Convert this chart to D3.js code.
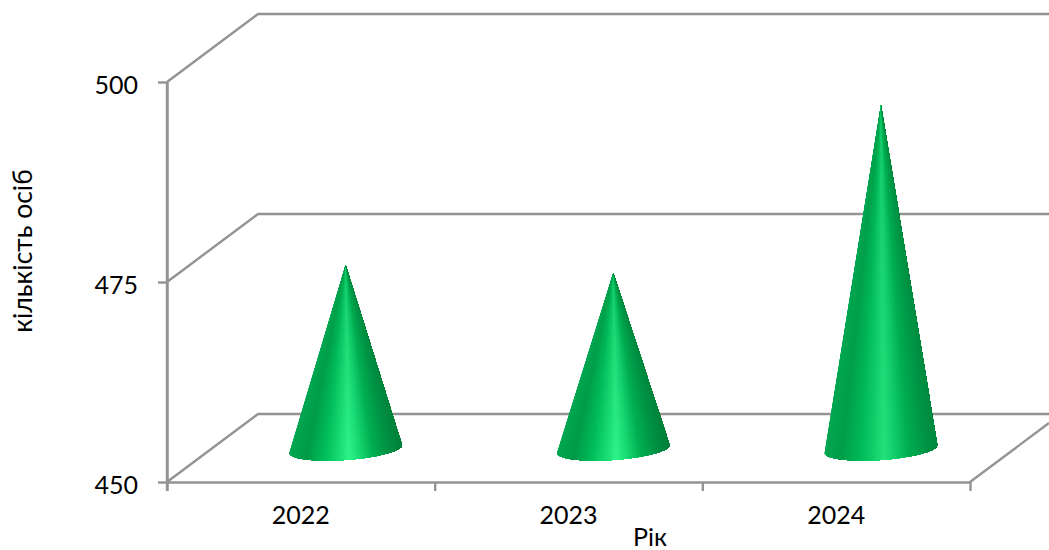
<!DOCTYPE html>
<html>
<head>
<meta charset="utf-8">
<script src="https://cdn.jsdelivr.net/npm/d3@7/dist/d3.min.js"></script>
<style>
html,body{margin:0;padding:0;background:#fff;overflow:hidden}
text{font-family:Lato,"Open Sans","Noto Sans",sans-serif;fill:#000}
</style>
</head>
<body>
<svg id="chart" width="1049" height="550"></svg>
<script>
// Annual head counts shown as 3D cones
const years = ["2022", "2023", "2024"];
const counts = [473, 472, 493];
const yTicks = [450, 475, 500];
const xTitle = "Рік";
const yTitle = "кількість осіб";

const W = 1049, H = 550;
const plot = {left: 167, right: 970, top: 82, bottom: 482};
const depth = {dx: 91, dy: -68};
const gridColor = "#939393";
const lineWidth = 2.4;

const svg = d3.select("#chart");
const x = d3.scaleBand().domain(years).range([plot.left, plot.right]);
const y = d3.scaleLinear().domain([450, 500]).range([plot.bottom, plot.top]);
const edges = d3.scaleLinear().domain([0, years.length]).range([plot.left, plot.right]);

// Back wall and side wall gridlines
const grid = svg.append("g").attr("fill", "none").attr("stroke", gridColor).attr("stroke-width", lineWidth);
grid.selectAll("path.wall").data(yTicks).join("path").attr("class", "wall")
  .attr("d", t => d3.line()([
    [plot.left, y(t)],
    [plot.left + depth.dx, y(t) + depth.dy],
    [W, y(t) + depth.dy]
  ]));
// Right edge of the floor, running off the canvas
grid.append("path").attr("d", d3.line()([
  [plot.right, plot.bottom],
  [plot.right + 79, plot.bottom + 79 * depth.dy / depth.dx]
]));

// Axes
const yAxis = svg.append("g").attr("transform", `translate(${plot.left},0)`)
  .call(d3.axisLeft(y).tickValues(yTicks).tickSize(9).tickSizeOuter(0).tickPadding(20));
const xTicks = svg.append("g").attr("transform", `translate(0,${plot.bottom})`)
  .call(d3.axisBottom(edges).tickValues(d3.range(years.length + 1)).tickSize(9).tickSizeOuter(0).tickFormat(""));
const xAxis = svg.append("g").attr("transform", `translate(0,${plot.bottom})`)
  .call(d3.axisBottom(x).tickSize(0).tickPadding(24));
xAxis.select(".domain").remove();
[yAxis, xTicks].forEach(g => {
  g.selectAll("path,line").attr("stroke", gridColor).attr("stroke-width", lineWidth);
});
// The vertical axis line also covers the first tick below the floor
svg.append("line").attr("x1", plot.left).attr("x2", plot.left)
  .attr("y1", plot.top).attr("y2", plot.bottom + 9)
  .attr("stroke", gridColor).attr("stroke-width", lineWidth);
[yAxis, xAxis].forEach(g => g.selectAll("text").attr("font-size", 25).attr("font-family", null));
yAxis.selectAll("text").attr("dy", "0.37em").attr("transform", "translate(0,2)");

// Axis titles
svg.append("text").attr("x", 650).attr("y", 545.5).attr("text-anchor", "middle")
  .attr("font-size", 25).text(xTitle);
svg.append("text").attr("transform", "translate(31.5,251) rotate(-90)").attr("text-anchor", "middle")
  .attr("font-size", 26.5).text(yTitle);

// Lighting across the cone surface, from the left silhouette to the right one
const shade = d3.scaleLinear()
  .domain([0, 0.14, 0.3, 0.44, 0.52, 0.6, 0.74, 0.9, 1])
  .range(["#03a651", "#009a48", "#00bd59", "#1adf76", "#30f48a", "#1cdf78", "#00b050", "#008c42", "#007f3a"])
  .interpolate(d3.interpolateRgb);

const defs = svg.append("defs");
const baseRx = 56.5, baseRy = 11, tilt = -4.1 * Math.PI / 180;
const facets = d3.range(0, 160);

years.forEach((yr, i) => {
  const cx = x(yr) + x.bandwidth() / 2 + depth.dx / 2 - 0.7;
  const floorOffset = depth.dy / 2 + 1;
  const by = y(450) + floorOffset;
  const apex = [cx, y(counts[i]) + floorOffset];

  // Point on the tilted base ellipse for a sweep angle between 0 (left) and PI (right)
  const rim = a => {
    const ex = -baseRx * Math.cos(a), ey = baseRy * Math.sin(a);
    return [cx + ex * Math.cos(tilt) - ey * Math.sin(tilt),
            by + ex * Math.sin(tilt) + ey * Math.cos(tilt)];
  };
  const g = svg.append("g").attr("class", "cone");

  // Upper surface reads duller, more so on the taller cone
  const fade = defs.append("linearGradient").attr("id", "fade" + i)
    .attr("gradientUnits", "userSpaceOnUse")
    .attr("x1", 0).attr("x2", 0).attr("y1", apex[1]).attr("y2", by + baseRy);
  fade.append("stop").attr("offset", 0).attr("stop-color", "#00a850").attr("stop-opacity", 0.5);
  fade.append("stop").attr("offset", 1).attr("stop-color", "#00a850").attr("stop-opacity", i === 2 ? 0.25 : 0);

  // Each slice spans from its own angle to the right silhouette, so later slices
  // paint over earlier ones and no antialiasing seams show between them
  g.selectAll("path.facet").data(facets).join("path").attr("class", "facet")
    .attr("d", k => {
      const pts = [apex];
      for (let j = k; j <= facets.length; j++) pts.push(rim(j / facets.length * Math.PI));
      return d3.line()(pts) + "Z";
    })
    .attr("fill", k => shade((1 - Math.cos((k + 0.5) / facets.length * Math.PI)) / 2));

  const outline = [apex].concat(d3.range(0, 81).map(k => rim(k / 80 * Math.PI)));
  g.append("path").attr("d", d3.line()(outline) + "Z").attr("fill", `url(#fade${i})`);
});
</script>
</body>
</html>
